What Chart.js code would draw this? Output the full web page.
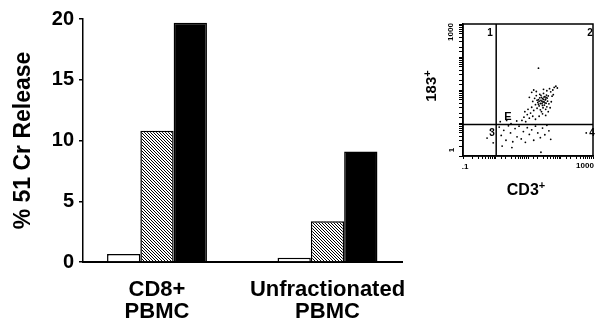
<!DOCTYPE html>
<html><head><meta charset="utf-8">
<script src="https://cdn.jsdelivr.net/npm/chart.js@4"></script>
<style>
html,body{margin:0;padding:0;background:#fff;width:597px;height:326px;overflow:hidden}
#main{position:absolute;left:0;top:0}
#inset{position:absolute;left:420px;top:0}
</style></head><body>
<canvas id="main" width="420" height="326"></canvas>
<canvas id="inset" width="177" height="200"></canvas>
<script>
// ---- bar chart data ----
const categories = [['CD8+', 'PBMC'], ['Unfractionated', 'PBMC']];
const seriesOpen = [0.66, 0.35];
const seriesHatched = [10.8, 3.35];
const seriesSolid = [19.7, 9.1];
const yTicks = [0, 5, 10, 15, 20];
const yTitle = '% 51 Cr Release';

// ---- flow cytometry inset data (CD3+ vs 183+, log scales) ----
const flowCore = [[13,3.0],[14,4.5],[15,2.4],[16,5.6],[17,3.6],[18,6.8],[19,2.8],[20,4.2],[21,5.1],[22,3.3],
  [23,7.4],[24,2.5],[25,4.8],[26,6.0],[27,3.9],[28,5.5],[29,2.9],[30,7.9],[31,4.4],[32,3.5],
  [33,6.3],[34,5.0],[35,2.6],[36,4.0],[37,7.0],[38,3.1],[39,5.7],[40,4.6],[42,6.6],[44,3.8],
  [19,4.9],[23,5.8],[27,4.6],[31,6.1],[35,5.3],[24,3.9],[28,3.4],[33,4.1],[21,3.7],[26,2.2],
  [30,5.2],[25,6.9],[36,6.0],[29,4.3],[22,4.6]];
const flowOuter = [[6.5,1.2],[7.5,1.5],[8.5,1.1],[9.5,1.8],[11,1.4],[10,2.6],[12,2.0],[8,2.2],[11,6.0],[13,8.5],
  [15,10],[18,9.0],[14,1.6],[17,1.3],[22,1.6],[28,1.9],[35,1.7],[42,2.2],[48,2.9],[52,4.4],
  [55,6.5],[50,8.8],[46,11],[58,10],[64,12],[72,13],[80,11.5],[60,7.2],[38,9.5],[30,10.5]];
const flowLower = [[1.3,0.75],[1.5,0.42],[1.8,0.6],[2.1,0.3],[2.5,0.82],[2.9,0.5],[3.4,0.27],[4.0,0.68],[4.6,0.38],
  [5.3,0.8],[6.2,0.33],[7.2,0.55],[8.3,0.26],[9.5,0.72],[11,0.45],[13,0.62],[15,0.3],[17,0.8],
  [20,0.5],[24,0.36],[28,0.7],[33,0.44],[38,0.85],[44,0.58],[50,0.32],[25,0.13],[1.6,0.2],[3.2,0.18],
  [1.4,1.1],[2.2,1.2],[3.0,0.95],[4.5,1.15]];
const flowLeft = [[0.55,0.35],[0.7,0.6],[0.85,0.25]];
const flowOutliers = [[21,46],[620,0.5]];
const quadX = 1.05;
const quadY = 0.9;
const flowRange = [0.1, 1000];
const flowTickText = ['.1', '1000'];
const quadrantLabels = ['1', '2', '3', '4'];

const F = '"Liberation Sans", Arial, Helvetica, sans-serif';

function hatch() {
  const c = document.createElement('canvas'); c.width = 3; c.height = 3;
  const g = c.getContext('2d'); const img = g.createImageData(3, 3);
  for (let j = 0; j < 3; j++) for (let i = 0; i < 3; i++) {
    const k = (j * 3 + i) * 4; const on = ((i - j + 3) % 3) === 0;
    img.data[k] = img.data[k + 1] = img.data[k + 2] = on ? 0 : 255; img.data[k + 3] = 255;
  }
  g.putImageData(img, 0, 0);
  return document.getElementById('main').getContext('2d').createPattern(c, 'repeat');
}
const toXY = arr => arr.map((v, i) => ({ x: i, y: v }));

new Chart(document.getElementById('main'), {
  type: 'bar',
  data: { datasets: [
    { data: toXY(seriesOpen), backgroundColor: '#fff', borderColor: '#000', borderWidth: 1.5 },
    { data: toXY(seriesHatched), backgroundColor: hatch(), borderColor: '#000', borderWidth: 1.5 },
    { data: toXY(seriesSolid), backgroundColor: '#000', borderColor: '#000', borderWidth: 1.5 }
  ]},
  options: {
    responsive: false, animation: false, events: [],
    barPercentage: 1, categoryPercentage: 0.586,
    layout: { padding: { top: 19, right: 18, bottom: 0, left: 0 } },
    plugins: { legend: { display: false }, tooltip: { enabled: false } },
    scales: {
      x: {
        type: 'linear', min: -0.434, max: 1.437, offset: false,
        afterBuildTicks: s => { s.ticks = categories.map((c, i) => ({ value: i })); },
        afterFit: s => { s.height = 64; s.paddingLeft = 0; s.paddingRight = 0; },
        grid: { display: true, offset: false, drawOnChartArea: false, drawTicks: false },
        border: { display: true, color: '#000', width: 2 },
        ticks: { padding: 17, color: '#000', autoSkip: false, maxRotation: 0,
          font: { family: F, size: 22, weight: 'bold', lineHeight: 1.0 },
          callback: v => categories[v] || '' }
      },
      y: {
        min: 0, max: 20,
        afterBuildTicks: s => { s.ticks = yTicks.map(v => ({ value: v })); },
        afterFit: s => { s.width = 83; },
        grid: { drawOnChartArea: false, drawTicks: true, tickLength: 4, color: '#000', lineWidth: 1.5 },
        border: { color: '#000', width: 1.5 },
        ticks: { padding: 5, color: '#000', font: { family: F, size: 20, weight: 'bold' } },
        title: { display: true, text: yTitle, color: '#000', padding: { top: 10, bottom: 0 },
          font: { family: F, size: 23, weight: 'bold' } }
      }
    }
  }
});

const insetText = {
  id: 'insetText',
  afterDraw(chart) {
    const ctx = chart.ctx, a = chart.chartArea;
    ctx.save();
    ctx.strokeStyle = '#000'; ctx.lineWidth = 1.5;
    ctx.strokeRect(a.left, a.top, a.right - a.left, a.bottom - a.top);
    ctx.fillStyle = '#000';
    ctx.textAlign = 'center'; ctx.textBaseline = 'middle';
    // quadrant numbers
    ctx.font = 'bold 10px ' + F;
    ctx.fillText(quadrantLabels[0], 70, 33);
    ctx.fillText(quadrantLabels[1], 170, 33);
    ctx.fillText(quadrantLabels[2], 72, 133);
    ctx.fillText(quadrantLabels[3], 172, 133);
    ctx.font = 'bold 11px ' + F;
    ctx.fillText('E', 88, 117);
    // axis end labels
    ctx.font = 'bold 8px ' + F;
    ctx.fillText(flowTickText[0], 45, 167);
    ctx.fillText(flowTickText[1], 165, 166);
    ctx.save(); ctx.translate(31, 32); ctx.rotate(-Math.PI / 2); ctx.fillText(flowTickText[1], 0, 0); ctx.restore();
    ctx.save(); ctx.translate(32, 150); ctx.rotate(-Math.PI / 2); ctx.fillText('1', 0, 0); ctx.restore();
    // axis titles
    function sup(base, cx, cy, size) {
      ctx.font = 'bold ' + size + 'px ' + F;
      const w1 = ctx.measureText(base).width;
      ctx.font = 'bold ' + Math.round(size * 0.7) + 'px ' + F;
      const w2 = ctx.measureText('+').width;
      const x0 = cx - (w1 + w2) / 2;
      ctx.textAlign = 'left';
      ctx.font = 'bold ' + size + 'px ' + F;
      ctx.fillText(base, x0, cy);
      ctx.font = 'bold ' + Math.round(size * 0.7) + 'px ' + F;
      ctx.fillText('+', x0 + w1, cy - size * 0.3);
      ctx.textAlign = 'center';
    }
    sup('CD3', 106, 191, 16);
    ctx.save(); ctx.translate(12, 86); ctx.rotate(-Math.PI / 2); sup('183', 0, 0, 15); ctx.restore();
    ctx.restore();
  }
};
const pts = arr => arr.map(p => ({ x: p[0], y: p[1] }));
new Chart(document.getElementById('inset'), {
  type: 'scatter',
  data: { datasets: [
    { data: pts(flowCore.concat(flowOuter, flowLower, flowLeft, flowOutliers)), pointRadius: 0.9,
      backgroundColor: '#000', borderWidth: 0 },
    { data: [{ x: quadX, y: flowRange[0] }, { x: quadX, y: flowRange[1] }], showLine: true,
      borderColor: '#000', borderWidth: 1.5, pointRadius: 0 },
    { data: [{ x: flowRange[0], y: quadY }, { x: flowRange[1], y: quadY }], showLine: true,
      borderColor: '#000', borderWidth: 1.5, pointRadius: 0 }
  ]},
  options: {
    responsive: false, animation: false, events: [],
    layout: { padding: { top: 24, right: 2, bottom: 39, left: 38 } },
    plugins: { legend: { display: false }, tooltip: { enabled: false } },
    scales: {
      x: { type: 'logarithmic', min: flowRange[0], max: flowRange[1],
        afterFit: s => { s.height = 5; },
        grid: { drawOnChartArea: false, tickLength: 3, color: '#000', lineWidth: 1 },
        border: { color: '#000', width: 1.5 }, ticks: { display: false } },
      y: { type: 'logarithmic', min: flowRange[0], max: flowRange[1],
        afterFit: s => { s.width = 5; },
        grid: { drawOnChartArea: false, tickLength: 4, color: '#000', lineWidth: 1 },
        border: { color: '#000', width: 1.5 }, ticks: { display: false } }
    }
  },
  plugins: [insetText]
});
</script>
</body></html>
